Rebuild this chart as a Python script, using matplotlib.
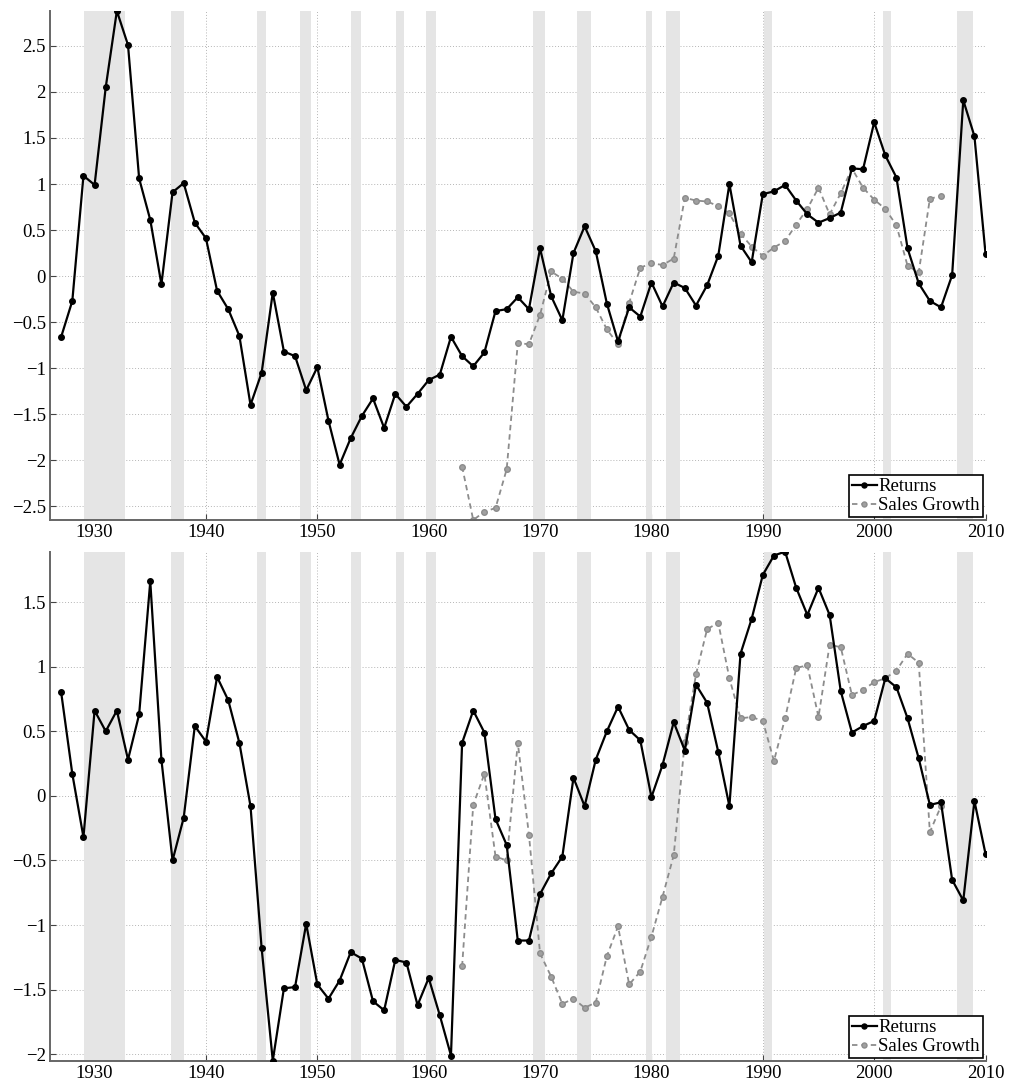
import numpy as np
import matplotlib
matplotlib.use("Agg")
import matplotlib.pyplot as plt
from matplotlib.ticker import FuncFormatter

plt.rcParams['font.family'] = ['Liberation Serif', 'DejaVu Serif']

# years
ret_years = list(range(1927, 2011))
sales_years = list(range(1963, 2007))

# top panel
top_returns = [
    -0.66, -0.27, 1.09, 0.99, 2.05, 2.88, 2.51, 1.06, 0.61, -0.09,
    0.91, 1.01, 0.58, 0.41, -0.16, -0.36, -0.65, -1.40, -1.05, -0.18,
    -0.82, -0.87, -1.24, -0.99, -1.57, -2.05, -1.76, -1.52, -1.33, -1.65,
    -1.28, -1.42, -1.28, -1.13, -1.07, -0.66, -0.87, -0.98, -0.83, -0.38,
    -0.36, -0.23, -0.36, 0.30, -0.22, -0.48, 0.25, 0.54, 0.27, -0.30,
    -0.71, -0.34, -0.44, -0.07, -0.33, -0.07, -0.13, -0.32, -0.10, 0.22,
    1.00, 0.33, 0.15, 0.89, 0.92, 0.99, 0.82, 0.67, 0.58, 0.63,
    0.69, 1.17, 1.16, 1.67, 1.31, 1.07, 0.30, -0.08, -0.27, -0.34,
    0.01, 1.91, 1.52, 0.24,
]
top_sales = [
    -2.07, -2.65, -2.56, -2.52, -2.10, -0.73, -0.74, -0.42, 0.05, -0.03,
    -0.17, -0.19, -0.34, -0.58, -0.74, -0.29, 0.09, 0.14, 0.12, 0.19,
    0.85, 0.82, 0.81, 0.76, 0.68, 0.46, 0.32, 0.22, 0.31, 0.38,
    0.56, 0.73, 0.96, 0.67, 0.90, 1.17, 0.96, 0.83, 0.73, 0.55,
    0.11, 0.04, 0.84, 0.87,
]

# bottom panel
bot_returns = [
    0.80, 0.17, -0.32, 0.66, 0.50, 0.66, 0.28, 0.63, 1.66, 0.28,
    -0.50, -0.17, 0.54, 0.42, 0.92, 0.74, 0.41, -0.08, -1.18, -2.05,
    -1.49, -1.48, -0.99, -1.46, -1.57, -1.43, -1.21, -1.26, -1.59, -1.66,
    -1.27, -1.29, -1.62, -1.41, -1.70, -2.01, 0.41, 0.66, 0.49, -0.18,
    -0.38, -1.12, -1.12, -0.76, -0.60, -0.47, 0.14, -0.08, 0.28, 0.50,
    0.69, 0.51, 0.43, -0.01, 0.24, 0.57, 0.35, 0.86, 0.72, 0.34,
    -0.08, 1.10, 1.37, 1.71, 1.86, 1.89, 1.61, 1.40, 1.61, 1.40,
    0.81, 0.49, 0.54, 0.58, 0.91, 0.84, 0.60, 0.29, -0.07, -0.05,
    -0.65, -0.81, -0.04, -0.45,
]
bot_sales = [
    -1.32, -0.07, 0.17, -0.47, -0.50, 0.41, -0.30, -1.22, -1.40, -1.61,
    -1.57, -1.64, -1.60, -1.24, -1.01, -1.46, -1.36, -1.09, -0.78, -0.46,
    0.42, 0.94, 1.29, 1.34, 0.91, 0.60, 0.61, 0.58, 0.27, 0.60,
    0.99, 1.01, 0.61, 1.17, 1.15, 0.78, 0.82, 0.88, 0.91, 0.97,
    1.10, 1.03, -0.28, -0.08,
]

# shaded recession periods (start, end)
recessions = [
    (1929.05, 1932.75), (1936.85, 1938.0), (1944.6, 1945.35), (1948.4, 1949.4),
    (1953.0, 1953.9), (1957.1, 1957.8), (1959.8, 1960.7), (1969.4, 1970.4),
    (1973.3, 1974.6), (1979.5, 1980.05), (1981.3, 1982.6), (1990.1, 1990.8),
    (2000.8, 2001.5), (2007.4, 2008.9),
]

xticks = [1930, 1940, 1950, 1960, 1970, 1980, 1990, 2000, 2010]
top_yticks = [-2.5, -2, -1.5, -1, -0.5, 0, 0.5, 1, 1.5, 2, 2.5]
bot_yticks = [-2, -1.5, -1, -0.5, 0, 0.5, 1, 1.5]


def fmt(v, pos):
    return ('%g' % v).replace('-', '\u2212')


fig = plt.figure(figsize=(10.13, 10.84), dpi=100)
ax1 = fig.add_axes([0.0494, 0.5203, 0.9235, 0.4696])
ax2 = fig.add_axes([0.0494, 0.0215, 0.9235, 0.4696])

panels = [
    (ax1, top_returns, top_sales, top_yticks, (-2.65, 2.88)),
    (ax2, bot_returns, bot_sales, bot_yticks, (-2.05, 1.89)),
]

for ax, ret, sal, yt, yl in panels:
    ax.set_axisbelow(True)
    for a, b in recessions:
        ax.axvspan(a, b, color='#e5e5e5', lw=0, zorder=1)
    ax.plot(ret_years, ret, color='black', lw=1.6, marker='o', ms=4,
            label='Returns', zorder=3)
    ax.plot(sales_years, sal, color='#8c8c8c', lw=1.3, ls=(0, (3, 2.2)),
            marker='o', ms=4, mec='#8c8c8c', mfc='#a0a0a0',
            label='Sales Growth', zorder=2)
    ax.set_xlim(1926, 2010)
    ax.set_ylim(*yl)
    ax.set_xticks(xticks)
    ax.set_yticks(yt)
    ax.yaxis.set_major_formatter(FuncFormatter(fmt))
    ax.grid(True, color='#b5b5b5', lw=0.7, ls=(0, (1, 2)))
    for s in ['top', 'right']:
        ax.spines[s].set_visible(False)
    for s in ['left', 'bottom']:
        ax.spines[s].set_color('#666666')
        ax.spines[s].set_linewidth(1.4)
    ax.tick_params(direction='in', length=4, width=0.8, color='#444444',
                   labelsize=13.5, pad=3)
    leg = ax.legend(loc='lower right', fontsize=13.5, frameon=True,
                    fancybox=False, borderaxespad=0.15, borderpad=0.15,
                    handlelength=1.3, handletextpad=0.1, labelspacing=0.1,
                    markerscale=0.9)
    leg.get_frame().set_edgecolor('black')
    leg.get_frame().set_linewidth(1.2)
    leg.get_frame().set_alpha(1)

fig.savefig('out.png', dpi=100)
